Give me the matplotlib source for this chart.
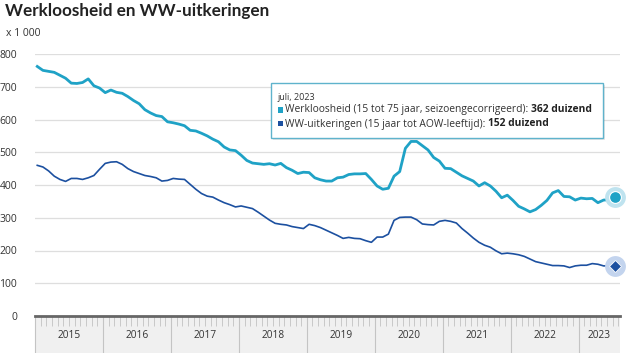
import matplotlib
matplotlib.use("Agg")
import matplotlib.pyplot as plt
from matplotlib.patches import Rectangle
import numpy as np

# ---- data (x 1 000), monthly Jan 2015 .. Jul 2023 ----
werkloosheid = [
    762, 750, 747, 744, 735, 726, 711, 710, 713, 724, 703, 696, 682, 690, 683, 680, 670, 658, 648, 630,
    620, 612, 609, 593, 590, 586,
    581, 567, 565, 558, 550, 540, 532, 516, 507, 505, 491, 475, 467, 465, 463, 465, 461, 466, 453, 445,
    435, 439, 438, 422, 416,
    412, 412, 422, 424, 432, 434, 434, 435, 417, 397, 387, 390, 427, 441, 512, 533, 533, 520, 507, 484,
    473, 451, 450, 439, 428, 420,
    412, 397, 407, 397, 381, 361, 369, 353, 335, 327, 318, 325, 338, 353, 376, 383, 365, 364, 354, 360,
    358, 359, 346, 354, 355, 362,
]
ww_uitkeringen = [
    460, 455, 443, 427, 417, 411, 420, 420, 417, 422, 429, 448, 466, 470, 471, 463, 450, 441, 435, 429,
    426, 422, 412, 414, 420, 418,
    417, 402, 387, 374, 366, 363, 354, 346, 340, 333, 336, 332, 328, 317, 305, 293, 283, 280, 278, 273,
    270, 267, 280, 276, 270,
    262, 254, 246, 237, 240, 237, 236, 230, 225, 241, 241, 250, 292, 301, 302, 302, 294, 281, 279, 278,
    289, 292, 289, 284, 267, 253,
    238, 225, 216, 210, 199, 190, 192, 190, 187, 182, 174, 166, 162, 158, 154, 154, 153, 148, 153, 155,
    155, 160, 158, 153, 153, 152,
]
years = ["2015", "2016", "2017", "2018", "2019", "2020", "2021", "2022", "2023"]
y_ticks = [0, 100, 200, 300, 400, 500, 600, 700, 800]
title = "Werkloosheid en WW-uitkeringen"
unit_label = "x 1 000"
tooltip_date = "juli, 2023"
series_names = ["Werkloosheid (15 tot 75 jaar, seizoengecorrigeerd): ",
                "WW-uitkeringen (15 jaar tot AOW-leeftijd): "]
series_values = ["362 duizend", "152 duizend"]

# ---- style ----
FONT = "Open Sans"
C_CYAN = "#1fa2c6"
C_DARK = "#1c50a0"
GRID = "#dedede"
TXT = "#333333"

W, H = 627, 353
fig = plt.figure(figsize=(W / 100, H / 100), dpi=100)
fig.patch.set_facecolor("white")

def fx(px):
    return px / W

def fy(py):
    return 1 - py / H

ax_l, ax_r, ax_t, ax_b = 35, 620, 54, 316
ax_hpx = ax_b - ax_t
ax = fig.add_axes([fx(ax_l), fy(ax_b), (ax_r - ax_l) / W, ax_hpx / H])
ax.set_facecolor("none")

n = len(werkloosheid)
x = np.arange(n)
off = 0.4
ax.set_xlim(-off, n - 1 + 0.9)
ax.set_ylim(0, 800)

# grid
for v in y_ticks[1:]:
    ax.axhline(v, color=GRID, lw=0.9, zorder=0)

# band below axis
band_h = 38 / ax_hpx
ax.add_patch(Rectangle((0, -band_h), 1, band_h, transform=ax.transAxes,
                       facecolor="#f0f0f0", edgecolor="none", clip_on=False, zorder=0))

# lines
ax.plot(x, werkloosheid, color=C_CYAN, lw=2.0, solid_joinstyle="round", zorder=3)
ax.plot(x, ww_uitkeringen, color=C_DARK, lw=1.2, solid_joinstyle="round", zorder=3)

# end markers with halo
ax.plot(x[-1], werkloosheid[-1], "o", ms=15, color="#bfe3ef", mec="none", zorder=4, clip_on=False)
ax.plot(x[-1], werkloosheid[-1], "o", ms=8.5, color=C_CYAN, mec="white", mew=0.8, zorder=5, clip_on=False)
ax.plot(x[-1], ww_uitkeringen[-1], "o", ms=15, color="#c3d4ee", mec="none", zorder=4, clip_on=False)
ax.plot(x[-1], ww_uitkeringen[-1], "D", ms=6.5, color=C_DARK, mec="white", mew=0.6, zorder=5, clip_on=False)

# zero axis line
ax.axhline(0, color="#666666", lw=2.0, zorder=3, clip_on=False)

# spines
for s in ax.spines.values():
    s.set_visible(False)

# y ticks
ax.set_yticks(y_ticks)
ax.set_yticklabels([str(v) for v in y_ticks], fontfamily=FONT, fontsize=7.5, color=TXT)
ax.tick_params(axis="y", length=0, pad=13)

# x ticks: year boundaries (major) and months (minor)
year_bounds = [12 * k - off for k in range(0, len(years))]
ax.set_xticks(year_bounds)
ax.set_xticklabels([])
ax.set_xticks([m - off for m in range(0, n + 1)], minor=True)
ax.tick_params(axis="x", which="major", length=29, width=0.8, color="#c4c4c4", direction="out")
ax.tick_params(axis="x", which="minor", length=7, width=0.6, color="#c2c2c2", direction="out")

# year labels
xmax = ax.get_xlim()[1]
for k, yr in enumerate(years):
    a = 12 * k - off
    b = min(12 * (k + 1) - off, xmax)
    ax.text((a + b) / 2, -19 / ax_hpx, yr, transform=ax.get_xaxis_transform(),
            ha="center", va="center", fontfamily=FONT, fontsize=7.3, color=TXT)

# title & unit
fig.text(fx(5), fy(11), title, fontfamily="Lato", fontweight="bold", fontsize=12.3,
         color="#222222", va="center", ha="left")
fig.text(fx(6), fy(34), unit_label, fontfamily=FONT, fontsize=7.5, color=TXT, va="center", ha="left")

# tooltip
bx0, bx1, by0, by1 = 271, 603, 83, 138
fig.patches.append(Rectangle((fx(bx0 + 1.5), fy(by1 + 1.5)), (bx1 - bx0) / W, (by1 - by0) / H,
                             transform=fig.transFigure, facecolor="#00000018", edgecolor="none", zorder=8))
fig.patches.append(Rectangle((fx(bx0), fy(by1)), (bx1 - bx0) / W, (by1 - by0) / H,
                             transform=fig.transFigure, facecolor="white", edgecolor="#5fb3cc",
                             lw=1.0, zorder=9))
fig.text(fx(278), fy(97), tooltip_date, fontfamily=FONT, fontsize=6.5, color=TXT,
         va="center", ha="left", zorder=10)

renderer = fig.canvas.get_renderer()
for i, (name, val, col) in enumerate(zip(series_names, series_values, [C_CYAN, C_DARK])):
    yy = 110 + i * 14
    fig.patches.append(Rectangle((fx(278), fy(yy + 2.5)), 5 / W, 5 / H, transform=fig.transFigure,
                                 facecolor=col, edgecolor="none", zorder=10))
    t = fig.text(fx(285), fy(yy), name, fontfamily=FONT, fontsize=7.4, color=TXT,
                 va="center", ha="left", zorder=10)
    bb = t.get_window_extent(renderer=renderer)
    fig.text(bb.x1 / W, fy(yy), val, fontfamily=FONT, fontsize=7.4, fontweight="bold",
             color="#222222", va="center", ha="left", zorder=10)

fig.savefig("out.png", dpi=100, facecolor="white")
